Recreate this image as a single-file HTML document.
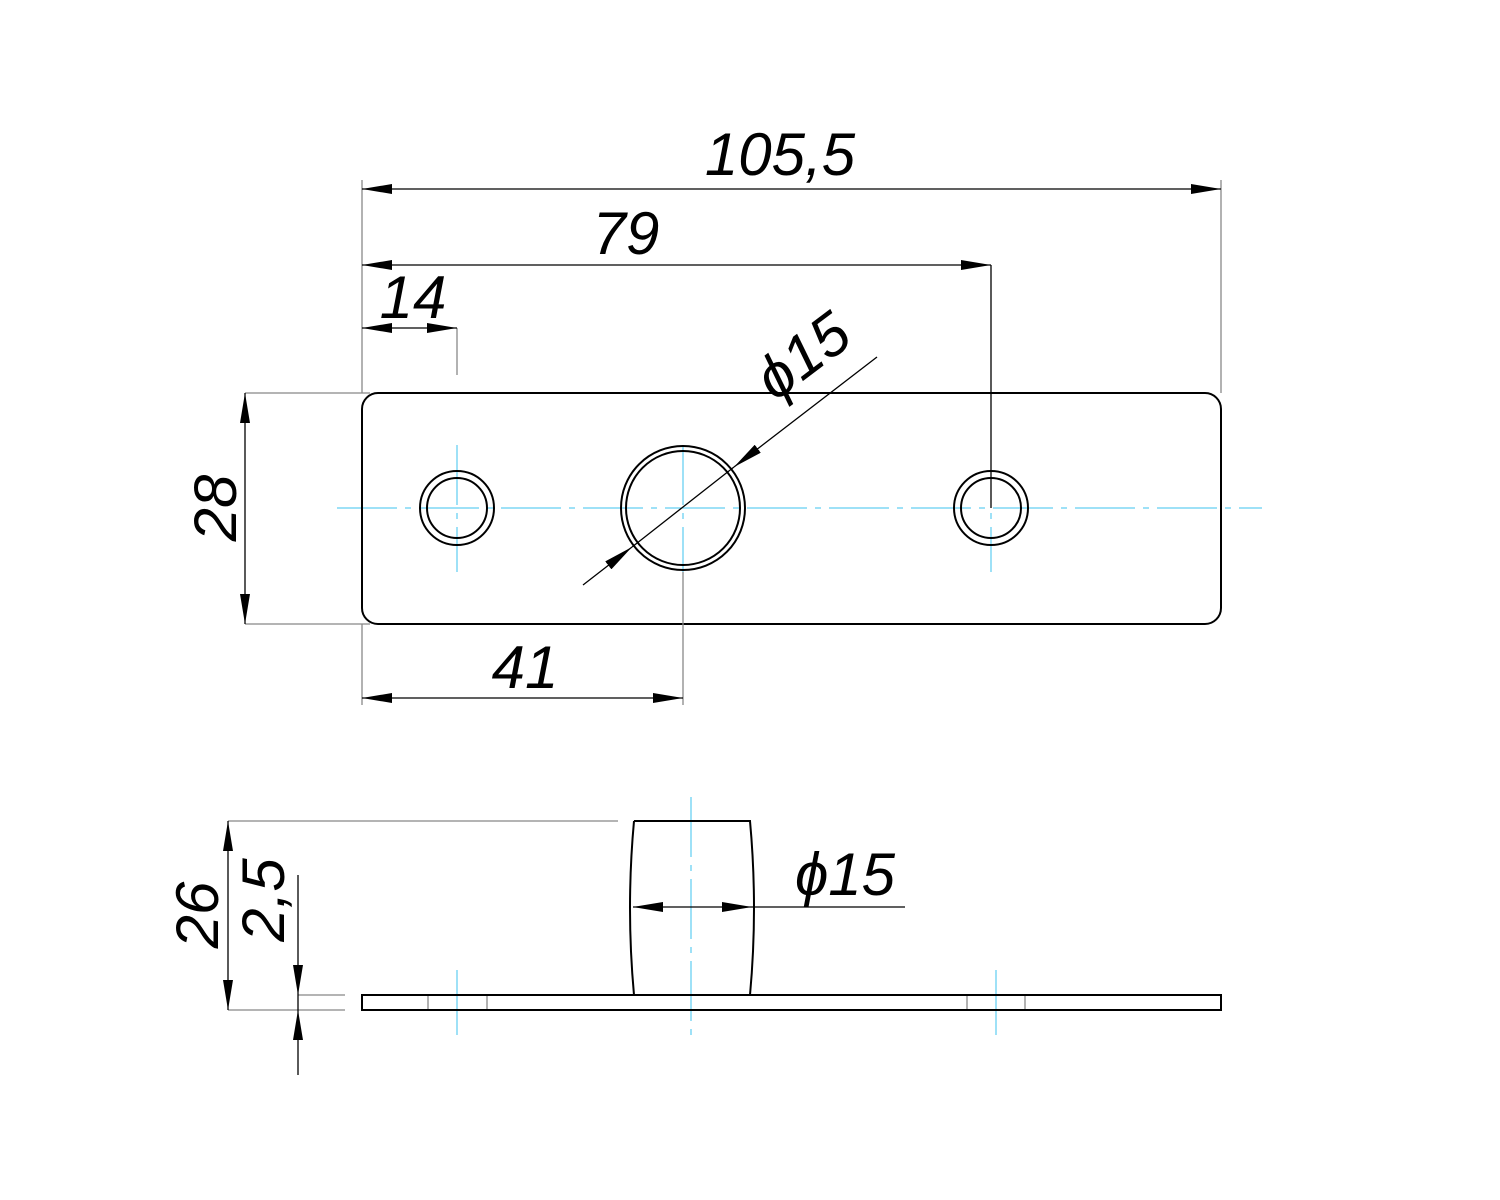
<!DOCTYPE html>
<html><head><meta charset="utf-8"><style>html,body{margin:0;padding:0;background:#fff}svg{display:block}</style></head>
<body>
<svg width="1500" height="1200" viewBox="0 0 1500 1200" xmlns="http://www.w3.org/2000/svg">
<defs>
<marker id="a" viewBox="0 0 30 10" refX="30" refY="5" markerWidth="30" markerHeight="10" markerUnits="userSpaceOnUse" orient="auto-start-reverse"><path d="M0,0 L30,5 L0,10 Z" fill="#000"/></marker>
</defs>
<g font-family="Liberation Sans, sans-serif" font-style="italic" font-size="60" fill="#000">
<!-- centerlines -->
<g stroke="#3cc3ef" stroke-width="1" stroke-dasharray="60,8,6,8">
<line x1="337" y1="508" x2="1262" y2="508"/>
<line x1="457" y1="445" x2="457" y2="572"/>
<line x1="683" y1="445" x2="683" y2="572"/>
<line x1="991" y1="445" x2="991" y2="572"/>
<line x1="691" y1="797" x2="691" y2="1035"/>
</g>
<g stroke="#3cc3ef" stroke-width="1">
<line x1="457" y1="970" x2="457" y2="1035"/>
<line x1="996" y1="970" x2="996" y2="1035"/>
</g>
<!-- plate top view -->
<g fill="none" stroke="#000" stroke-width="2">
<rect x="362" y="393" width="859" height="231" rx="16"/>
<circle cx="457" cy="508" r="37"/><circle cx="457" cy="508" r="30"/>
<circle cx="683" cy="508" r="62"/><circle cx="683" cy="508" r="57"/>
<circle cx="991" cy="508" r="37"/><circle cx="991" cy="508" r="30"/>
</g>
<!-- extension lines -->
<g stroke="#888" stroke-width="1.3" fill="none">
<line x1="362" y1="180" x2="362" y2="393"/>
<line x1="1221" y1="180" x2="1221" y2="393"/>
<line x1="457" y1="328" x2="457" y2="375"/>
<line x1="245" y1="393" x2="370" y2="393"/>
<line x1="245" y1="624" x2="370" y2="624"/>
<line x1="362" y1="624" x2="362" y2="705"/>
<line x1="683" y1="572" x2="683" y2="705"/>
<line x1="228" y1="821" x2="618" y2="821"/>
<line x1="228" y1="1010" x2="345" y2="1010"/>
<line x1="298" y1="995" x2="345" y2="995"/>
<line x1="428" y1="995" x2="428" y2="1010"/>
<line x1="487" y1="995" x2="487" y2="1010"/>
<line x1="967" y1="995" x2="967" y2="1010"/>
<line x1="1025" y1="995" x2="1025" y2="1010"/>
</g>
<!-- dimension lines -->
<g stroke="#000" stroke-width="1.3" fill="none">
<line x1="362" y1="189" x2="1221" y2="189" marker-start="url(#a)" marker-end="url(#a)"/>
<line x1="362" y1="265" x2="991" y2="265" marker-start="url(#a)" marker-end="url(#a)"/>
<line x1="991" y1="265" x2="991" y2="508"/>
<line x1="362" y1="328" x2="457" y2="328" marker-start="url(#a)" marker-end="url(#a)"/>
<line x1="245" y1="393" x2="245" y2="624" marker-start="url(#a)" marker-end="url(#a)"/>
<line x1="362" y1="698" x2="683" y2="698" marker-start="url(#a)" marker-end="url(#a)"/>
<line x1="877" y1="357" x2="734" y2="467" marker-end="url(#a)"/>
<line x1="734" y1="467" x2="632" y2="547"/>
<line x1="583" y1="585" x2="632" y2="547" marker-end="url(#a)"/>
<line x1="633" y1="907" x2="752" y2="907" marker-start="url(#a)" marker-end="url(#a)"/>
<line x1="752" y1="907" x2="905" y2="907"/>
<line x1="228" y1="821" x2="228" y2="1010" marker-start="url(#a)" marker-end="url(#a)"/>
<line x1="298" y1="875" x2="298" y2="995" marker-end="url(#a)"/>
<line x1="298" y1="1075" x2="298" y2="1010" marker-end="url(#a)"/>
<line x1="298" y1="995" x2="298" y2="1010"/>
</g>
<!-- side view -->
<g fill="none" stroke="#000" stroke-width="2">
<rect x="362" y="995" width="859" height="15"/>
<path d="M634,821 L750,821 Q758,908 750,995 M634,995 Q626,908 634,821"/>
</g>
<!-- text -->
<text x="780" y="175" text-anchor="middle">105,5</text>
<text x="626" y="254" text-anchor="middle">79</text>
<text x="413" y="318" text-anchor="middle">14</text>
<text x="525" y="688" text-anchor="middle">41</text>
<text transform="translate(236,508) rotate(-90)" text-anchor="middle">28</text>
<text transform="translate(815,372) rotate(-37)" text-anchor="middle">ϕ15</text>
<text x="845" y="895" text-anchor="middle">ϕ15</text>
<text transform="translate(218,915) rotate(-90)" text-anchor="middle">26</text>
<text transform="translate(284,900) rotate(-90)" text-anchor="middle">2,5</text>
</g>
</svg>
</body></html>
